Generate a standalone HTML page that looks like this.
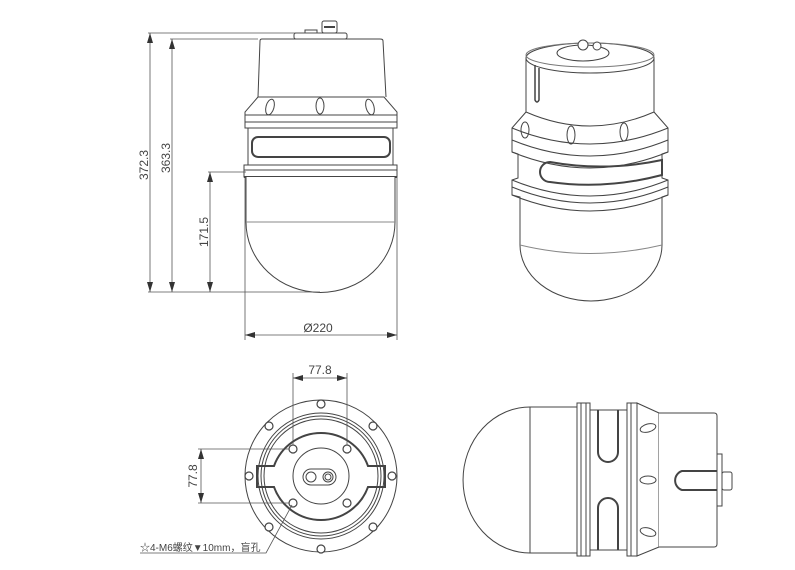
<!DOCTYPE html>
<html><head><meta charset="utf-8"><style>
html,body{margin:0;padding:0;background:#fff;}
svg{display:block;}
text{font-family:"Liberation Sans","Noto Sans CJK SC",sans-serif;fill:#444;}
</style></head><body>
<svg width="795" height="570" viewBox="0 0 795 570" xmlns="http://www.w3.org/2000/svg">
<defs>
<marker id="a" markerWidth="10" markerHeight="6" refX="10" refY="3" orient="auto-start-reverse" markerUnits="userSpaceOnUse">
<path d="M0,0 L10,3 L0,6 z" fill="#333"/></marker>
</defs>
<g fill="none" stroke="#444" stroke-width="1">
<!-- FRONT VIEW -->
<rect x="322" y="21" width="15" height="12" rx="2" fill="#fff"/>
<line x1="324" y1="27" x2="335" y2="27" stroke-width="2"/>
<rect x="294" y="33" width="53" height="6" rx="2" fill="#fff"/>
<rect x="305" y="30" width="12" height="3"/>
<path d="M258,97 L260,41 Q260,39 262,39 L380,39 Q383,39 383,41 L386,97" fill="#fff"/>
<path d="M258,97 L245,112 L245,128 L397,128 L397,112 L384,97 Z" fill="#fff"/>
<line x1="245" y1="115" x2="397" y2="115"/>
<line x1="245" y1="122" x2="397" y2="122"/>
<ellipse cx="270" cy="107" rx="4" ry="8" transform="rotate(15 270 107)"/>
<ellipse cx="320" cy="106" rx="4" ry="8"/>
<ellipse cx="370" cy="107" rx="4" ry="8" transform="rotate(-15 370 107)"/>
<rect x="248" y="128" width="145" height="37" fill="#fff"/>
<rect x="252" y="137" width="138" height="20" rx="6" stroke-width="2"/>
<rect x="244" y="165" width="153" height="12" fill="#fff"/>
<line x1="244" y1="170" x2="397" y2="170"/>
<line x1="244" y1="177" x2="397" y2="177" stroke-width="2"/>
<g stroke-width="1.5"><line x1="251" y1="178" x2="259" y2="178"/><line x1="285" y1="178" x2="293" y2="178"/><line x1="317" y1="178" x2="325" y2="178"/><line x1="350" y1="178" x2="358" y2="178"/><line x1="383" y1="178" x2="391" y2="178"/></g>
<path d="M246,177 L246,222 A74,70 0 0 0 395,222 L395,177" fill="#fff"/>
<line x1="246" y1="222" x2="395" y2="222" stroke="#888"/>
<!-- dims front -->
<g stroke="#555" stroke-width="0.8">
<line x1="148" y1="33" x2="322" y2="33"/>
<line x1="170" y1="39" x2="258" y2="39"/>
<line x1="148" y1="292" x2="320" y2="292"/>
<line x1="208" y1="172" x2="246" y2="172"/>
<line x1="150" y1="33" x2="150" y2="292" marker-start="url(#a)" marker-end="url(#a)"/>
<line x1="172" y1="39" x2="172" y2="292" marker-start="url(#a)" marker-end="url(#a)"/>
<line x1="210" y1="172" x2="210" y2="292" marker-start="url(#a)" marker-end="url(#a)"/>
<line x1="245" y1="177" x2="245" y2="340"/>
<line x1="397" y1="177" x2="397" y2="340"/>
<line x1="245" y1="335" x2="397" y2="335" marker-start="url(#a)" marker-end="url(#a)"/>
</g>
<!-- BOTTOM VIEW -->
<circle cx="321" cy="476" r="76" fill="#fff"/>
<circle cx="321" cy="476" r="63"/>
<circle cx="321" cy="476" r="60"/>
<circle cx="321" cy="476" r="57"/>
<path d="M274,466 A50,50 0 0 1 368,466 L385,466 L385,487 L368,487 A50,50 0 0 1 274,487 L257,487 L257,466 Z" stroke-width="2"/>
<circle cx="321" cy="476" r="28"/>
<rect x="303" y="469" width="33" height="16" rx="8"/>
<circle cx="311" cy="477" r="5"/>
<circle cx="328" cy="477" r="5"/><circle cx="328" cy="477" r="3"/>
<g fill="#fff" stroke-width="1.2">
<circle cx="321" cy="404" r="4"/><circle cx="269" cy="426" r="4"/><circle cx="373" cy="426" r="4"/>
<circle cx="249" cy="476" r="4"/><circle cx="392" cy="476" r="4"/>
<circle cx="269" cy="527" r="4"/><circle cx="373" cy="527" r="4"/><circle cx="321" cy="549" r="4"/>
<circle cx="293" cy="449" r="4"/><circle cx="347" cy="449" r="4"/>
<circle cx="293" cy="503" r="4"/><circle cx="347" cy="503" r="4"/>
</g>
<g stroke="#555" stroke-width="0.8">
<line x1="293" y1="373" x2="293" y2="445"/>
<line x1="347" y1="373" x2="347" y2="445"/>
<line x1="293" y1="378" x2="347" y2="378" marker-start="url(#a)" marker-end="url(#a)"/>
<line x1="198" y1="449" x2="289" y2="449"/>
<line x1="198" y1="503" x2="289" y2="503"/>
<line x1="201" y1="449" x2="201" y2="503" marker-start="url(#a)" marker-end="url(#a)"/>
<polyline points="292,505 266,553 140,553"/>
</g>
<!-- SIDE VIEW -->
<path d="M530,407 A67,73 0 0 0 530,553 L577,553 L577,407 Z" fill="#fff"/>
<line x1="530" y1="407" x2="530" y2="553"/>
<rect x="577" y="403" width="13" height="153" fill="#fff"/>
<line x1="581" y1="403" x2="581" y2="556"/><line x1="586" y1="403" x2="586" y2="556"/>
<rect x="590" y="410" width="37" height="140" fill="#fff"/>
<path d="M598,410 L598,452 A10,10 0 0 0 618,452 L618,410" stroke-width="2"/>
<path d="M598,550 L598,508 A10,10 0 0 1 618,508 L618,550" stroke-width="2"/>
<rect x="627" y="403" width="10" height="153" fill="#fff"/>
<line x1="631" y1="403" x2="631" y2="556"/>
<path d="M637,403 L659,413 L659,547 L637,556 Z" fill="#fff"/>
<ellipse cx="648" cy="428" rx="8" ry="4" transform="rotate(-15 648 428)"/>
<ellipse cx="648" cy="480" rx="8" ry="4"/>
<ellipse cx="648" cy="532" rx="8" ry="4" transform="rotate(15 648 532)"/>
<path d="M659,413 L714,413 Q717,413 717,416 L717,544 Q717,547 714,547 L659,547" fill="#fff"/>
<path d="M717,471 L682,471 A10,10 0 0 0 682,490 L717,490" stroke-width="2"/>
<rect x="717" y="454" width="5" height="52" fill="#fff"/>
<rect x="722" y="472" width="10" height="18" rx="2" fill="#fff"/>
<!-- ISO VIEW -->
<path d="M526,58 L526,112 L512,128 L512,152 L518,154 L518,178 L512,180 L512,195 L520,197 L520,245 A71,56 0 0 0 662,245 L662,197 L668,195 L668,180 L662,178 L662,154 L668,152 L668,128 L654,112 L654,58" fill="#fff"/>
<ellipse cx="590" cy="58" rx="64" ry="15" fill="#fff"/>
<ellipse cx="590" cy="55" rx="64" ry="12" stroke="#777"/>
<ellipse cx="583" cy="53" rx="26" ry="8"/>
<circle cx="583" cy="45" r="5" fill="#fff"/><circle cx="597" cy="46" r="4" fill="#fff"/>
<path d="M535,65 L535,100 Q537,104 539,100 L539,68" stroke-width="1.5"/>
<path d="M526,112 Q590,140 654,112"/>
<path d="M512,128 Q590,160 668,128"/>
<path d="M512,140 Q590,172 668,140"/>
<path d="M512,152 Q590,184 668,152"/>
<path d="M512,180 Q590,212 668,180"/>
<path d="M512,187 Q590,219 668,187"/>
<path d="M512,195 Q590,227 668,195"/>
<path d="M520,245 Q590,262 662,245" stroke="#888"/>
<ellipse cx="525" cy="130" rx="4" ry="8"/><ellipse cx="571" cy="135" rx="4" ry="9"/><ellipse cx="624" cy="132" rx="4" ry="9"/>
<path d="M550,162 Q605,172 662,160 L662,175 Q605,190 550,182 A10,10 0 0 1 550,162 Z" stroke-width="2"/>
</g>
<g font-size="12">
<text x="318" y="332" text-anchor="middle">Ø220</text>
<text transform="translate(148,165) rotate(-90)" text-anchor="middle">372.3</text>
<text transform="translate(170,158) rotate(-90)" text-anchor="middle">363.3</text>
<text transform="translate(208,232) rotate(-90)" text-anchor="middle">171.5</text>
<text x="320" y="374" text-anchor="middle">77.8</text>
<text transform="translate(197,476) rotate(-90)" text-anchor="middle">77.8</text>
<text x="140" y="551" font-size="10">☆4-M6螺纹▼10mm，盲孔</text>
</g>
</svg>
</body></html>
